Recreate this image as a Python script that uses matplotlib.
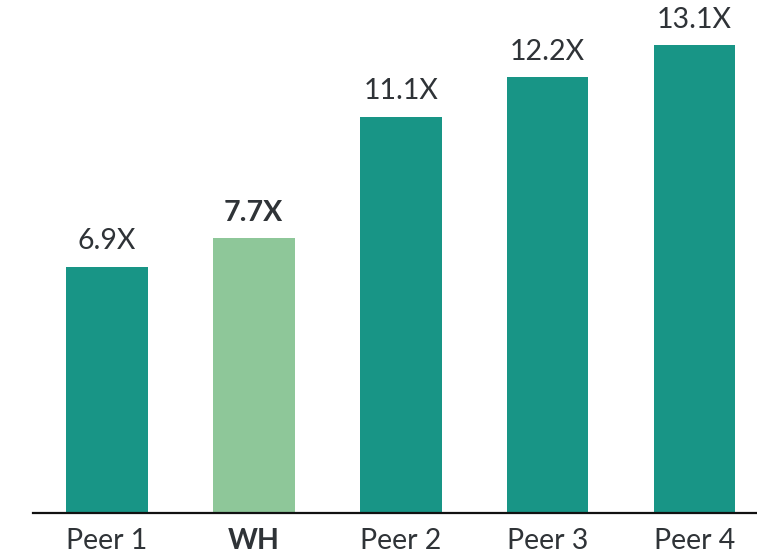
#!/usr/bin/env python3

import matplotlib.pyplot as plt

# EV multiples by company
companies = ["Peer 1", "WH", "Peer 2", "Peer 3", "Peer 4"]
multiples = [6.9, 7.7, 11.1, 12.2, 13.1]
highlight = "WH"

TEAL = "#189586"
GREEN = "#8ec799"
TEXT = "#2f3337"

plt.rcParams["font.family"] = ["Lato", "DejaVu Sans"]


def main():
    fig = plt.figure(figsize=(7.57, 5.57), dpi=100)
    ax = fig.add_axes([33 / 757, 44 / 557, 724 / 757, 513 / 557])

    x = range(len(companies))
    colors = [GREEN if c == highlight else TEAL for c in companies]
    bars = ax.bar(x, multiples, width=0.556, color=colors, zorder=2)

    for bar, name, val in zip(bars, companies, multiples):
        weight = "bold" if name == highlight else "normal"
        ax.annotate(
            f"{val:.1f}X",
            (bar.get_x() + bar.get_width() / 2, val),
            xytext=(0, 9),
            textcoords="offset points",
            ha="center",
            va="bottom",
            fontsize=20.5,
            color=TEXT,
            fontweight=weight,
        )

    ax.set_xticks(list(x))
    ax.set_xticklabels(companies, fontsize=20.5, color=TEXT)
    for lbl in ax.get_xticklabels():
        if lbl.get_text() == highlight:
            lbl.set_fontweight("bold")
    ax.tick_params(axis="x", length=0, pad=11)

    ax.set_xlim(-0.502, 4.425)
    ax.set_ylim(0, 14.37)
    ax.set_yticks([])
    for side in ("top", "right", "left"):
        ax.spines[side].set_visible(False)
    ax.spines["bottom"].set_color("#111111")
    ax.spines["bottom"].set_linewidth(1.6)

    fig.savefig("out.png", dpi=100, facecolor="white")
    plt.close(fig)


if __name__ == "__main__":
    main()
